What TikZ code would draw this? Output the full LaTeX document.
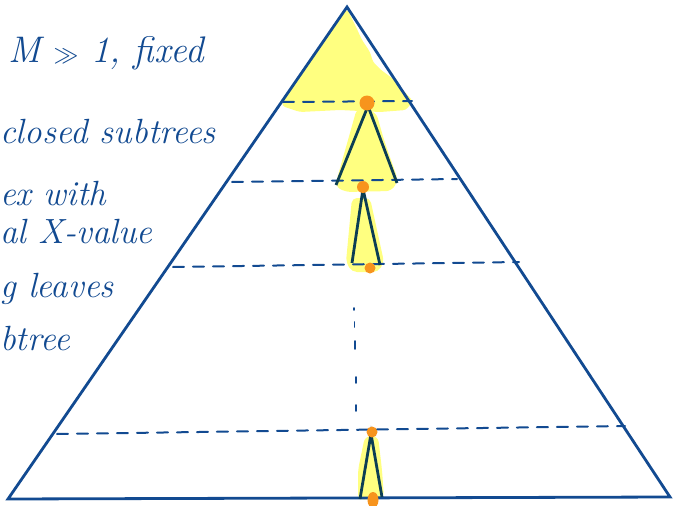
\documentclass[tikz,border=0pt]{standalone}
\usepackage{fontspec}
\definecolor{inkblue}{RGB}{18,74,145}
\definecolor{inkdark}{RGB}{12,62,84}
\definecolor{hlyellow}{RGB}{255,255,128}
\definecolor{dotorange}{RGB}{247,148,29}
\tikzset{
  bigtri/.style={draw=inkblue, line width=2.8pt, line join=miter},
  levelline/.style={draw=inkblue, line width=2pt, dash pattern=on 11pt off 9pt, line cap=round},
  subtri/.style={draw=inkdark, line width=2.8pt, line join=miter},
  glow/.style={fill=hlyellow, draw=none},
  mark dot/.style={fill=dotorange, draw=none},
  hand/.style={text=inkblue, inner sep=0pt, font=\fontsize{35}{38}\selectfont\itshape},
  vdots/.style={draw=inkblue, line width=1.6pt, line cap=round}
}
\begin{document}
\begin{tikzpicture}[x=1pt,y=-1pt]
\useasboundingbox (0,0) rectangle (673,506);
\clip (0,0) rectangle (673,506);
\fill[white] (0,0) rectangle (673,506);

% yellow highlights
\fill[glow, rounded corners=3pt] (347,9) -- (356,27) -- (362,40) -- (370,52) -- (373,62) -- (381,70) -- (392,78) -- (401,88) -- (413,101) -- (406,110) -- (380,112) -- (340,110) -- (300,112) -- (282,106) -- (283,100) -- cycle;
\fill[glow, rounded corners=6pt] (357,108) -- (376,112) -- (384,140) -- (398,180) -- (392,191) -- (345,192) -- (335,186) -- (348,140) -- cycle;
\fill[glow, rounded corners=5pt] (352,198) -- (370,198) -- (384,262) -- (378,272) -- (352,272) -- (346,262) -- cycle;
\fill[glow, rounded corners=6pt] (365,436) -- (378,436) -- (382,470) -- (384,498) -- (358,500) -- (358,470) -- cycle;

% main triangle
\coordinate (apex) at (347,7);
\coordinate (bl) at (8,499);
\coordinate (br) at (670,497);
\draw[bigtri] (apex) -- (bl) -- (br) -- cycle;

% level lines
\coordinate (l1a) at (283,102); \coordinate (l1b) at (412,101);
\coordinate (l2a) at (232,182); \coordinate (l2b) at (457,179);
\coordinate (l3a) at (173,267); \coordinate (l3b) at (519,262);
\coordinate (l4a) at (57,434);  \coordinate (l4b) at (625,426);
\draw[levelline] (l1a) -- (l1b);
\draw[levelline] (l2a) -- (l2b);
\draw[levelline] (l3a) -- (l3b);
\draw[levelline] (l4a) -- (l4b);

% vertical dots
\draw[vdots] (354,308) -- (354,310);
\draw[vdots] (354.5,322) -- (354.5,327);
\draw[vdots] (355,341) -- (355,349);
\draw[vdots] (356,377) -- (356,383);
\draw[vdots] (356,405) -- (356,411);

% subtrees
\coordinate (s1) at (368,106); \coordinate (s1l) at (336,185); \coordinate (s1r) at (397,183);
\draw[subtri] (s1l) -- (s1) -- (s1r);
\coordinate (s2) at (363,189); \coordinate (s2l) at (352,263); \coordinate (s2r) at (380,265);
\draw[subtri] (s2l) -- (s2) -- (s2r);
\coordinate (s3) at (371,434); \coordinate (s3l) at (360,499); \coordinate (s3r) at (382,497);
\draw[subtri] (s3l) -- (s3) -- (s3r);

% orange dots
\fill[mark dot] (367,103) circle (7.5);
\fill[mark dot] (363,187) circle (6);
\fill[mark dot] (370,268) circle (5.5);
\fill[mark dot] (372,432) circle (5.5);
\fill[mark dot] (373,500) ellipse (5.5 and 8);

% handwritten texts
\node[hand, anchor=base west, font=\fontsize{37}{40}\selectfont\itshape] (t1) at (8,62) {M $\gg$ 1, fixed};
\node[hand, anchor=base west] (t2) at (0,143) {closed subtrees};
\node[hand, anchor=base west] (t3) at (0,205) {ex with};
\node[hand, anchor=base west] (t4) at (0,243) {al X-value};
\node[hand, anchor=base west] (t5) at (0,297) {g leaves};
\node[hand, anchor=base west] (t6) at (0,350) {btree};
\end{tikzpicture}
\end{document}
